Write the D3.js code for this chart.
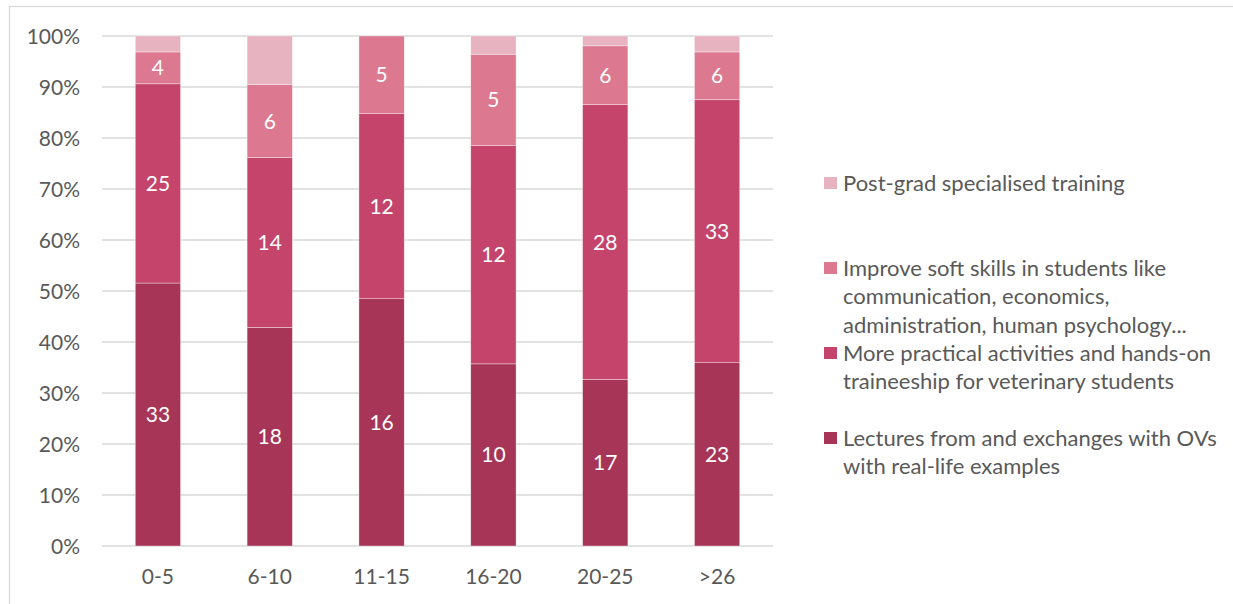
<!DOCTYPE html>
<html>
<head>
<meta charset="utf-8">
<script src="https://cdn.jsdelivr.net/npm/d3@7/dist/d3.min.js"></script>
<style>
  html, body { margin: 0; padding: 0; background: #fff; }
  svg { display: block; }
  text { font-family: Lato, "Open Sans", "Liberation Sans", sans-serif; }
</style>
</head>
<body>
<svg id="chart" width="1233" height="604"></svg>
<script>
// Years of experience groups
const categories = ["0-5", "6-10", "11-15", "16-20", "20-25", ">26"];

// Respondent counts per suggestion, bottom to top of each stack
const lectures  = [33, 18, 16, 10, 17, 23];
const practical = [25, 14, 12, 12, 28, 33];
const softSkills = [4, 6, 5, 5, 6, 6];
const postGrad  = [2, 4, 0, 1, 1, 2];

const seriesNames = [
  "Lectures from and exchanges with OVs with real-life examples",
  "More practical activities and hands-on traineeship for veterinary students",
  "Improve soft skills in students like communication, economics, administration, human psychology...",
  "Post-grad specialised training"
];
const legendLines = [
  ["Lectures from and exchanges with OVs", "with real-life examples"],
  ["More practical activities and hands-on", "traineeship for veterinary students"],
  ["Improve soft skills in students like", "communication, economics,", "administration, human psychology..."],
  ["Post-grad specialised training"]
];
const colors = ["#A63558", "#C4446B", "#DC7890", "#E8B3C0"];
const yTicks = [0, 0.1, 0.2, 0.3, 0.4, 0.5, 0.6, 0.7, 0.8, 0.9, 1.0];

const seriesValues = [lectures, practical, softSkills, postGrad];
const keys = ["s0", "s1", "s2", "s3"];
const rows = categories.map((c, i) => {
  const r = { cat: c };
  keys.forEach((k, j) => r[k] = seriesValues[j][i]);
  return r;
});

const svg = d3.select("#chart");

// Outer chart frame
svg.append("rect")
  .attr("x", 9.5).attr("y", 6.5)
  .attr("width", 1300).attr("height", 700)
  .attr("fill", "none").attr("stroke", "#D9D9D9").attr("stroke-width", 1.3);

const plot = { left: 102, right: 773, top: 36, bottom: 546 };

const x = d3.scaleBand()
  .domain(categories)
  .range([plot.left, plot.right])
  .paddingInner(0.595)
  .paddingOuter(0.2975);

const y = d3.scaleLinear().domain([0, 1]).range([plot.bottom, plot.top]);

// Horizontal gridlines
svg.append("g")
  .selectAll("line")
  .data(yTicks)
  .join("line")
  .attr("x1", plot.left).attr("x2", plot.right)
  .attr("y1", d => y(d)).attr("y2", d => y(d))
  .attr("stroke", "#D9D9D9").attr("stroke-width", 1.3);

// Y axis labels
const yAxis = d3.axisLeft(y).tickValues(yTicks).tickFormat(d3.format(".0%")).tickSize(0).tickPadding(0);
const yg = svg.append("g").attr("transform", `translate(${plot.left - 22},0)`).call(yAxis);
yg.select(".domain").remove();
yg.selectAll("text").attr("fill", "#595959").attr("font-size", 21).attr("dy", "0.35em")
  .style("font-family", "Lato, 'Open Sans', sans-serif");

// X axis labels
const xAxis = d3.axisBottom(x).tickSize(0).tickPadding(0);
const xg = svg.append("g").attr("transform", `translate(0,${plot.bottom + 31})`).call(xAxis);
xg.select(".domain").remove();
xg.selectAll("text").attr("fill", "#595959").attr("font-size", 21).attr("dy", "0.35em")
  .style("font-family", "Lato, 'Open Sans', sans-serif");

// 100% stacked bars
const stack = d3.stack().keys(keys).offset(d3.stackOffsetExpand);
const stacked = stack(rows);

const layers = svg.append("g")
  .selectAll("g")
  .data(stacked)
  .join("g")
  .attr("fill", (d, i) => colors[i]);

layers.selectAll("rect")
  .data(d => d)
  .join("rect")
  .attr("x", d => x(d.data.cat))
  .attr("width", x.bandwidth())
  .attr("y", d => y(d[1]))
  .attr("height", d => Math.max(0, y(d[0]) - y(d[1])))
  .attr("stroke", "#fff").attr("stroke-width", 0.6).attr("stroke-opacity", 0.6);

// Value labels (post-grad segments are unlabelled)
layers.filter((d, i) => i < 3)
  .selectAll("text")
  .data(d => d.map(v => ({ v, key: d.key })))
  .join("text")
  .attr("x", d => x(d.v.data.cat) + x.bandwidth() / 2)
  .attr("y", d => (y(d.v[0]) + y(d.v[1])) / 2)
  .attr("dy", "0.36em")
  .attr("text-anchor", "middle")
  .attr("fill", "#fff")
  .attr("font-size", 21)
  .text(d => d.v.data[d.key]);

// Legend, top entry is the top series
const legendTops = [432, 347, 262, 177];
const legend = svg.append("g");
legendLines.forEach((lines, i) => {
  const g = legend.append("g");
  g.append("rect")
    .attr("x", 824).attr("y", legendTops[i])
    .attr("width", 13).attr("height", 12)
    .attr("fill", colors[i]);
  g.append("text")
    .attr("x", 843).attr("y", legendTops[i] + 6)
    .attr("fill", "#595959").attr("font-size", 22)
    .selectAll("tspan")
    .data(lines)
    .join("tspan")
    .attr("x", 843)
    .attr("dy", (d, k) => k === 0 ? "0.35em" : 28.5)
    .text(d => d);
  g.append("title").text(seriesNames[i]);
});
</script>
</body>
</html>
